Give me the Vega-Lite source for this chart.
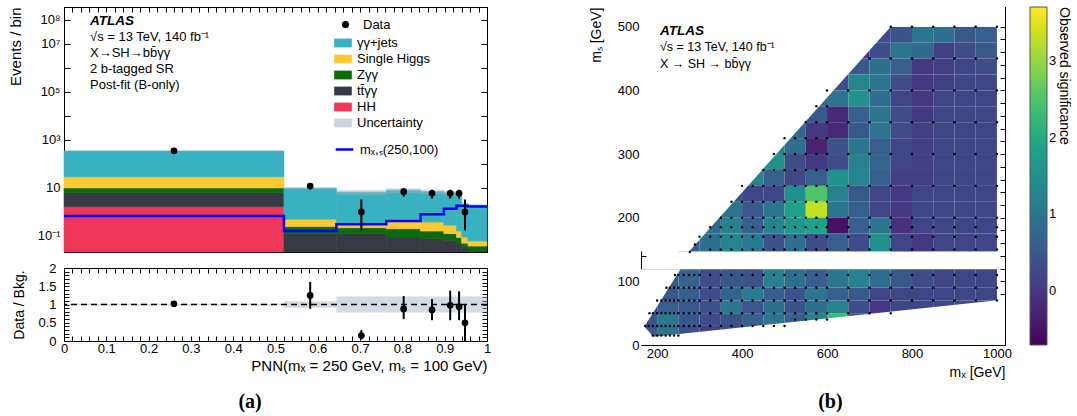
{
  "$schema": "https://vega.github.io/schema/vega-lite/v6.json",
  "background": "white",
  "padding": {"left": 7, "top": 6, "right": 0, "bottom": 0},
  "config": {
    "font": "Liberation Sans",
    "view": {"stroke": "black", "strokeWidth": 1},
    "axis": {"domainColor": "black", "tickColor": "black", "labelColor": "black", "titleColor": "black", "labelFont": "Liberation Sans", "titleFont": "Liberation Sans", "titleFontWeight": "normal", "grid": false, "zindex": 1, "labelFontSize": 13, "titleFontSize": 14},
    "legend": {"labelFont": "Liberation Sans", "titleFont": "Liberation Sans", "labelColor": "black", "titleColor": "black"},
    "title": {"font": "Liberation Sans", "color": "black"}
  },
  "datasets": {
    "stack": [
      {"c": "HH", "lo": [0], "hi": [0.52], "b": [0.001], "t": [1.66]},
      {"c": "tt̄γγ", "lo": [0, 0.52, 0.644, 0.762, 0.843, 0.898, 0.928, 0.94, 0.955], "hi": [0.52, 0.644, 0.762, 0.843, 0.898, 0.928, 0.94, 0.955, 1], "b": [1.66, 0.001, 0.001, 0.001, 0.001, 0.001, 0.001, 0.001, 0.001], "t": [6.4, 0.125, 0.125, 0.09, 0.08, 0.067, 0.05, 0.035, 0.025]},
      {"c": "Zγγ", "lo": [0, 0.52, 0.644, 0.762, 0.843, 0.898, 0.928, 0.94, 0.955], "hi": [0.52, 0.644, 0.762, 0.843, 0.898, 0.928, 0.94, 0.955, 1], "b": [6.4, 0.125, 0.125, 0.09, 0.08, 0.067, 0.05, 0.035, 0.025], "t": [10, 0.245, 0.22, 0.2, 0.16, 0.125, 0.086, 0.05, 0.038]},
      {"c": "Single Higgs", "lo": [0, 0.52, 0.644, 0.762, 0.843, 0.898, 0.928, 0.94, 0.955], "hi": [0.52, 0.644, 0.762, 0.843, 0.898, 0.928, 0.94, 0.955, 1], "b": [10, 0.245, 0.22, 0.2, 0.16, 0.125, 0.086, 0.05, 0.038], "t": [29.5, 0.5, 0.32, 0.42, 0.38, 0.28, 0.16, 0.09, 0.062]},
      {"c": "γγ+jets", "lo": [0, 0.52, 0.644, 0.762, 0.843, 0.898, 0.928, 0.94, 0.955], "hi": [0.52, 0.644, 0.762, 0.843, 0.898, 0.928, 0.94, 0.955, 1], "b": [29.5, 0.5, 0.32, 0.42, 0.38, 0.28, 0.16, 0.09, 0.062], "t": [343, 9.7, 6.6, 8.0, 7.0, 6.2, 6.4, 2.1, 1.8]}
    ],
    "unc": [
      {"lo": [0, 0.52, 0.644, 0.762, 0.843, 0.898, 0.928, 0.94, 0.955], "hi": [0.52, 0.644, 0.762, 0.843, 0.898, 0.928, 0.94, 0.955, 1], "ulo": [336, 8.8, 5.1, 6.2, 5.5, 4.8, 5.0, 1.6, 1.4], "uhi": [350, 10.6, 8.1, 9.8, 8.5, 7.6, 7.8, 2.6, 2.2], "rlo": [0.98, 0.91, 0.78, 0.78, 0.78, 0.78, 0.78, 0.78, 0.78], "rhi": [1.02, 1.09, 1.22, 1.22, 1.22, 1.22, 1.22, 1.22, 1.22]}
    ],
    "sig": [
      {"x": 0, "v": 0.68}, {"x": 0.52, "v": 0.16}, {"x": 0.644, "v": 0.31}, {"x": 0.762, "v": 0.42}, {"x": 0.843, "v": 0.8}, {"x": 0.898, "v": 1.37}, {"x": 0.928, "v": 1.8}, {"x": 0.94, "v": 1.8}, {"x": 0.955, "v": 1.7}, {"x": 1, "v": 1.7}
    ],
    "obs": [
      {"x": 0.26, "n": 350, "nlo": 331, "nhi": 369, "r": 1.02, "rlo": 0.99, "rhi": 1.05},
      {"x": 0.582, "n": 12, "nlo": 8.6, "nhi": 15.5, "r": 1.25, "rlo": 0.88, "rhi": 1.62},
      {"x": 0.703, "n": 1, "nlo": 0.17, "nhi": 3.3, "r": 0.15, "rlo": 0.04, "rhi": 0.3},
      {"x": 0.803, "n": 7, "nlo": 4.4, "nhi": 9.6, "r": 0.88, "rlo": 0.6, "rhi": 1.23},
      {"x": 0.87, "n": 6, "nlo": 3.6, "nhi": 8.4, "r": 0.85, "rlo": 0.57, "rhi": 1.15},
      {"x": 0.913, "n": 6, "nlo": 3.6, "nhi": 8.4, "r": 0.98, "rlo": 0.57, "rhi": 1.38},
      {"x": 0.934, "n": 6, "nlo": 3.6, "nhi": 8.4, "r": 0.94, "rlo": 0.57, "rhi": 1.36},
      {"x": 0.948, "n": 1, "nlo": 0.17, "nhi": 3.3, "r": 0.5, "rlo": 0.0, "rhi": 1.0}
    ],
    "ref": [{"r": 1}],
    "cells": [
      {"y": 475, "y2": 500, "x": [700, 750, 800, 850, 900, 950], "x2": [750, 800, 850, 900, 950, 1000], "z": [0.3, 0.4, 1.0, 0.9, 0.5, 0.6]},
      {"y": 450, "y2": 475, "x": [650, 700, 750, 800, 850, 900, 950], "x2": [700, 750, 800, 850, 900, 950, 1000], "z": [0.0, 0.3, 1.0, 0.8, 0.1, 0.3, 0.5]},
      {"y": 425, "y2": 450, "x": [600, 650, 700, 750, 800, 850, 900, 950], "x2": [650, 700, 750, 800, 850, 900, 950, 1000], "z": [-0.3, 0.5, 0.9, 0.6, 0.0, 0.1, 0.2, 0.3]},
      {"y": 400, "y2": 425, "x": [600, 650, 700, 750, 800, 850, 900, 950], "x2": [650, 700, 750, 800, 850, 900, 950, 1000], "z": [0.3, 1.3, 1.0, 0.3, 0.0, 0.1, 0.2, 0.2]},
      {"y": 375, "y2": 400, "x": [550, 600, 650, 700, 750, 800, 850, 900, 950], "x2": [600, 650, 700, 750, 800, 850, 900, 950, 1000], "z": [0.8, 1.0, 1.5, 0.9, 0.2, 0.0, 0.2, 0.2, 0.2]},
      {"y": 350, "y2": 375, "x": [500, 550, 600, 650, 700, 750, 800, 850, 900, 950], "x2": [550, 600, 650, 700, 750, 800, 850, 900, 950, 1000], "z": [1.0, 0.5, -0.2, 0.6, 1.0, 0.3, 0.0, 0.2, 0.2, 0.2]},
      {"y": 325, "y2": 350, "x": [500, 550, 600, 650, 700, 750, 800, 850, 900, 950], "x2": [550, 600, 650, 700, 750, 800, 850, 900, 950, 1000], "z": [0.8, 0.0, -0.2, 0.5, 1.0, 0.3, 0.1, 0.2, 0.2, 0.2]},
      {"y": 300, "y2": 325, "x": [450, 500, 550, 600, 650, 700, 750, 800, 850, 900, 950], "x2": [500, 550, 600, 650, 700, 750, 800, 850, 900, 950, 1000], "z": [1.3, 0.9, -0.3, 0.4, 1.0, 0.6, 0.2, 0.1, 0.2, 0.2, 0.2]},
      {"y": 275, "y2": 300, "x": [400, 450, 500, 550, 600, 650, 700, 750, 800, 850, 900, 950], "x2": [450, 500, 550, 600, 650, 700, 750, 800, 850, 900, 950, 1000], "z": [1.5, 1.5, 0.3, 0.0, 0.3, 1.2, 0.7, 0.2, 0.1, 0.2, 0.2, 0.2]},
      {"y": 250, "y2": 275, "x": [400, 450, 500, 550, 600, 650, 700, 750, 800, 850, 900, 950], "x2": [450, 500, 550, 600, 650, 700, 750, 800, 850, 900, 950, 1000], "z": [1.3, 0.6, 0.2, 0.6, 1.5, 1.3, 0.6, 0.1, 0.1, 0.2, 0.2, 0.2]},
      {"y": 225, "y2": 250, "x": [350, 400, 450, 500, 550, 600, 650, 700, 750, 800, 850, 900, 950], "x2": [400, 450, 500, 550, 600, 650, 700, 750, 800, 850, 900, 950, 1000], "z": [0.5, 0.2, 0.2, 1.5, 2.5, 1.2, 0.5, 0.2, 0.0, 0.2, 0.2, 0.2, 0.2]},
      {"y": 200, "y2": 225, "x": [300, 350, 400, 450, 500, 550, 600, 650, 700, 750, 800, 850, 900, 950], "x2": [350, 400, 450, 500, 550, 600, 650, 700, 750, 800, 850, 900, 950, 1000], "z": [0.3, 1.0, 0.5, 1.0, 1.8, 3.3, 1.0, 0.6, 0.2, 0.0, 0.2, 0.2, 0.2, 0.2]},
      {"y": 175, "y2": 200, "x": [300, 350, 400, 450, 500, 550, 600, 650, 700, 750, 800, 850, 900, 950], "x2": [350, 400, 450, 500, 550, 600, 650, 700, 750, 800, 850, 900, 950, 1000], "z": [0.8, 1.2, 0.6, 1.3, 1.6, 1.8, -0.5, 0.6, 1.0, -0.1, 0.2, 0.2, 0.2, 0.2]},
      {"y": 147, "y2": 175, "x": [250, 300, 350, 400, 450, 500, 550, 600, 650, 700, 750, 800, 850, 900, 950], "x2": [300, 350, 400, 450, 500, 550, 600, 650, 700, 750, 800, 850, 900, 950, 1000], "z": [0.6, 0.9, 1.3, 1.1, 0.4, 0.9, 0.3, 0.6, 0.3, 1.5, 0.2, 0.0, 0.2, 0.2, 0.2]},
      {"y": 10, "y2": 30, "x": [162, 200, 250, 300, 350, 400, 450], "x2": [200, 250, 300, 350, 400, 450, 500], "z": [0.5, 1.0, 0.4, 0.2, 0.3, 0.6, 0.3]},
      {"y": 30, "y2": 50, "x": [162, 200, 250, 300, 350, 400, 450, 500, 550, 600, 650, 700, 750], "x2": [200, 250, 300, 350, 400, 450, 500, 550, 600, 650, 700, 750, 800], "z": [0.4, 1.1, 0.5, 0.3, 0.4, 0.6, 1.0, 0.6, 1.2, 2.3, 0.5, 0.3, 0.2]},
      {"y": 50, "y2": 70, "x": [162, 200, 250, 300, 350, 400, 450, 500, 550, 600, 650, 700, 750, 800, 850, 900, 950], "x2": [200, 250, 300, 350, 400, 450, 500, 550, 600, 650, 700, 750, 800, 850, 900, 950, 1000], "z": [0.3, 0.6, 0.5, 0.4, 1.0, 0.5, 0.9, 0.4, 0.9, 1.2, 0.3, 0.0, 0.2, 0.2, 0.2, 0.3, 0.5]},
      {"y": 70, "y2": 90, "x": [162, 200, 250, 300, 350, 400, 450, 500, 550, 600, 650, 700, 750, 800, 850, 900, 950], "x2": [200, 250, 300, 350, 400, 450, 500, 550, 600, 650, 700, 750, 800, 850, 900, 950, 1000], "z": [0.3, 0.5, 0.6, 0.3, 0.7, 1.1, 0.6, 0.4, 1.0, 0.6, 0.5, 0.2, 0.2, 0.2, 0.2, 0.2, 0.2]},
      {"y": 90, "y2": 119, "x": [162, 200, 250, 300, 350, 400, 450, 500, 550, 600, 650, 700, 750, 800, 850, 900, 950], "x2": [200, 250, 300, 350, 400, 450, 500, 550, 600, 650, 700, 750, 800, 850, 900, 950, 1000], "z": [0.3, 0.5, 0.7, 0.3, 0.5, 0.4, 1.2, 0.9, 0.6, 1.0, 1.2, 0.9, 0.5, 0.3, 0.2, 0.2, 0.2]}
    ],
    "maskUpper": [{"x": 162, "y": 147, "top": 531}, {"x": 275, "y": 147, "top": 531}, {"x": 750, "y": 500, "top": 531}, {"x": 1019, "y": 500, "top": 531}],
    "maskLeft": [{"x": 162, "y": 20, "top": 119}, {"x": 170, "y": 29, "top": 119}, {"x": 255, "y": 119, "top": 119}],
    "maskBottom": [{"x": 162, "y": 35, "top": 0}, {"x": 191, "y": 13, "top": 0}, {"x": 1019, "y": 71.3, "top": 0}],
    "dots": [
      {"s": 500, "x": [750, 800, 850, 900, 950, 1000]},
      {"s": 450, "x": [700, 750, 800, 850, 900, 950, 1000]},
      {"s": 400, "x": [600, 650, 700, 750, 800, 850, 900, 950, 1000]},
      {"s": 375, "x": [575, 600]},
      {"s": 350, "x": [550, 575, 600, 650, 700, 750, 800, 850, 900, 950, 1000]},
      {"s": 325, "x": [500, 525, 550, 575, 600]},
      {"s": 300, "x": [475, 500, 525, 550, 575, 600, 650, 700, 750, 800, 850, 900, 950, 1000]},
      {"s": 275, "x": [450, 475, 500, 525, 550, 575, 600]},
      {"s": 250, "x": [400, 425, 450, 475, 500, 525, 550, 575, 600, 650, 700, 750, 800, 850, 900, 950, 1000]},
      {"s": 225, "x": [375, 400, 425, 450, 475, 500, 525, 550, 575, 600]},
      {"s": 200, "x": [350, 375, 400, 425, 450, 475, 500, 525, 550, 575, 600, 650, 700, 750, 800, 850, 900, 950, 1000]},
      {"s": 185, "x": [325, 350, 375, 400, 425, 450, 475, 500, 525, 550, 575, 600, 650, 700, 750, 800, 850, 900, 950, 1000]},
      {"s": 170, "x": [300, 325, 350, 375, 400, 425, 450, 475, 500, 525, 550, 575, 600, 650, 700, 750, 800, 850, 900, 950, 1000]},
      {"s": 150, "x": [325, 350, 375, 400, 425, 450, 475, 500, 525, 550, 575, 600, 650, 700, 750, 800, 850, 900, 950, 1000]},
      {"s": 158, "x": [289]},
      {"s": 146, "x": [277]},
      {"s": 110, "x": [242, 250, 262.5, 275, 287.5, 300, 325, 350, 375, 400, 425, 450, 475, 500, 525, 550, 575, 600, 650, 700, 750, 800, 850, 900, 950, 1000]},
      {"s": 90, "x": [222, 230, 240, 250, 262.5, 275, 287.5, 300, 325, 350, 375, 400, 425, 450, 475, 500, 525, 550, 575, 600, 650, 700, 750, 800, 850, 900, 950, 1000]},
      {"s": 70, "x": [200, 210, 220, 230, 240, 250, 262.5, 275, 287.5, 300, 325, 350, 375, 400, 425, 450, 475, 500, 525, 550, 575, 600, 650, 700, 750, 800, 850, 900, 950, 1000]},
      {"s": 50, "x": [182, 190, 200, 210, 220, 230, 240, 250, 262.5, 275, 287.5, 300, 325, 350, 375, 400, 425, 450, 475, 500, 525, 550, 575, 600, 650, 700, 750]},
      {"s": 40, "x": [525, 550, 575, 600]},
      {"s": 30, "x": [172, 180, 190, 200, 210, 220, 230, 240, 250, 262.5, 275, 287.5, 300, 325, 350, 375, 400, 425, 450, 475, 500]},
      {"s": 15, "x": [190, 200, 210, 220, 230, 240, 250]}
    ]
  },
  "resolve": {"scale": {"color": "independent", "x": "independent", "y": "independent"}, "legend": {"color": "independent"}},
  "spacing": 95,
  "hconcat": [
    {
      "title": {"text": "(a)", "orient": "bottom", "anchor": "middle", "font": "Liberation Serif", "fontSize": 20, "fontWeight": "bold", "offset": 18},
      "resolve": {"scale": {"y": "independent"}},
      "spacing": 8,
      "vconcat": [
        {
          "width": 423,
          "height": 245,
          "title": {"text": "ATLAS", "subtitle": ["√s = 13 TeV, 140 fb⁻¹", "X→SH→bb̄γγ", "2 b-tagged SR", "Post-fit (B-only)"], "anchor": "start", "frame": "group", "orient": "top", "offset": -86, "dx": 26, "fontSize": 13.5, "fontStyle": "italic", "fontWeight": "bold", "subtitleFontSize": 13, "subtitleLineHeight": 16.3, "subtitlePadding": 3, "subtitleColor": "black", "subtitleFont": "Liberation Sans"},
          "resolve": {"axis": {"x": "independent", "y": "independent"}},
          "layer": [
            {
              "data": {"name": "stack"},
              "transform": [{"flatten": ["lo", "hi", "b", "t"]}],
              "mark": {"type": "rect", "strokeWidth": 0.6},
              "encoding": {
                "x": {"field": "lo", "type": "quantitative", "scale": {"domain": [0, 1], "nice": false}, "axis": {"orient": "bottom", "tickCount": 50, "labels": false, "title": null, "tickSize": -5}},
                "x2": {"field": "hi"},
                "y": {"field": "b", "type": "quantitative", "scale": {"type": "log", "domain": [0.0215, 340000000], "clamp": true, "nice": false}, "axis": {"orient": "left", "values": [0.1, 1, 10, 100, 1000, 10000, 100000, 1000000, 10000000, 100000000], "labelExpr": "round(log(datum.value)/LN10) == -1 ? '10⁻¹' : round(log(datum.value)/LN10) == 1 ? '10' : round(log(datum.value)/LN10) == 3 ? '10³' : round(log(datum.value)/LN10) == 5 ? '10⁵' : round(log(datum.value)/LN10) == 7 ? '10⁷' : round(log(datum.value)/LN10) == 8 ? '10⁸' : ''", "labelOverlap": false, "tickSize": -6, "labelPadding": 10, "title": "Events / bin", "titleAnchor": "end", "titleFontSize": 15, "titlePadding": 14}},
                "y2": {"field": "t"},
                "color": {
                  "field": "c", "type": "nominal",
                  "scale": {"domain": ["γγ+jets", "Single Higgs", "Zγγ", "tt̄γγ", "HH", "Uncertainty"], "range": ["#38b2c0", "#fdc933", "#0b6b0b", "#373a45", "#f03659", "#c9d5e0"]},
                  "legend": {"title": null, "orient": "none", "legendX": 270, "legendY": 27, "padding": 0, "symbolType": "M-1,-0.5H1V0.5H-1Z", "symbolSize": 310, "rowPadding": 0, "labelFontSize": 13, "labelOffset": 5, "symbolStrokeWidth": 0, "symbolOpacity": 1}
                },
                "stroke": {"field": "c", "type": "nominal", "scale": {"domain": ["γγ+jets", "Single Higgs", "Zγγ", "tt̄γγ", "HH", "Uncertainty"], "range": ["#38b2c0", "#fdc933", "#0b6b0b", "#373a45", "#f03659", "#c9d5e0"]}, "legend": null}
              }
            },
            {
              "data": {"name": "unc"},
              "transform": [{"flatten": ["lo", "hi", "ulo", "uhi"]}],
              "mark": {"type": "rect", "color": "#9db1c4", "opacity": 0.45},
              "encoding": {
                "x": {"field": "lo", "type": "quantitative", "scale": {"domain": [0, 1], "nice": false}, "axis": {"orient": "top", "tickCount": 50, "labels": false, "title": null, "tickSize": -5}},
                "x2": {"field": "hi"},
                "y": {"field": "ulo", "type": "quantitative", "scale": {"type": "log", "domain": [0.0215, 340000000], "clamp": true, "nice": false}, "axis": {"orient": "right", "values": [0.1, 1, 10, 100, 1000, 10000, 100000, 1000000, 10000000, 100000000], "labels": false, "title": null, "tickSize": -6}},
                "y2": {"field": "uhi"}
              }
            },
            {
              "data": {"name": "sig"},
              "mark": {"type": "line", "interpolate": "step-after", "color": "#0000ff", "strokeWidth": 2.5},
              "encoding": {
                "x": {"field": "x", "type": "quantitative", "scale": {"domain": [0, 1], "nice": false}, "axis": null},
                "y": {"field": "v", "type": "quantitative", "scale": {"type": "log", "domain": [0.0215, 340000000], "clamp": true, "nice": false}, "axis": null},
                "strokeDash": {"datum": "mₓ,ₛ(250,100)", "type": "nominal", "scale": {"range": [[1, 0]]}, "legend": {"title": null, "orient": "none", "legendX": 270, "legendY": 132, "padding": 0, "symbolType": "stroke", "symbolSize": 310, "symbolStrokeColor": "#0000ff", "symbolStrokeWidth": 2.5, "labelFontSize": 13, "labelOffset": 5}}
              }
            },
            {
              "data": {"name": "obs"},
              "mark": {"type": "rule", "color": "black", "strokeWidth": 2},
              "encoding": {
                "x": {"field": "x", "type": "quantitative", "scale": {"domain": [0, 1], "nice": false}, "axis": null},
                "y": {"field": "nlo", "type": "quantitative", "scale": {"type": "log", "domain": [0.0215, 340000000], "clamp": true, "nice": false}, "axis": null},
                "y2": {"field": "nhi"}
              }
            },
            {
              "data": {"name": "obs"},
              "mark": {"type": "point", "filled": true, "color": "black", "size": 45, "opacity": 1},
              "encoding": {
                "x": {"field": "x", "type": "quantitative", "scale": {"domain": [0, 1], "nice": false}, "axis": null},
                "y": {"field": "n", "type": "quantitative", "scale": {"type": "log", "domain": [0.0215, 340000000], "clamp": true, "nice": false}, "axis": null},
                "shape": {"datum": "Data", "type": "nominal", "scale": {"range": ["circle"]}, "legend": {"title": null, "orient": "none", "legendX": 275, "legendY": 11, "padding": 0, "symbolSize": 50, "symbolFillColor": "black", "symbolStrokeColor": "black", "labelFontSize": 13, "labelOffset": 11}}
              }
            }
          ]
        },
        {
          "width": 423,
          "height": 73,
          "resolve": {"axis": {"x": "independent", "y": "independent"}},
          "layer": [
            {
              "data": {"name": "unc"},
              "transform": [{"flatten": ["lo", "hi", "rlo", "rhi"]}],
              "mark": {"type": "rect", "color": "#9db1c4", "opacity": 0.45},
              "encoding": {
                "x": {"field": "lo", "type": "quantitative", "scale": {"domain": [0, 1], "nice": false}, "axis": {"orient": "bottom", "tickCount": 50, "labelExpr": "abs(datum.value*10 - round(datum.value*10)) < 0.001 ? format(datum.value, '~g') : ''", "labelOverlap": false, "labelFlush": false, "tickSize": -5, "labelPadding": 6, "title": "PNN(mₓ = 250 GeV, mₛ = 100 GeV)", "titleAnchor": "end", "titleFontSize": 15, "titlePadding": 3}},
                "x2": {"field": "hi"},
                "y": {"field": "rlo", "type": "quantitative", "scale": {"domain": [0, 2], "nice": false}, "axis": {"orient": "left", "values": [0, 0.1, 0.2, 0.3, 0.4, 0.5, 0.6, 0.7, 0.8, 0.9, 1, 1.1, 1.2, 1.3, 1.4, 1.5, 1.6, 1.7, 1.8, 1.9, 2], "labelExpr": "abs(datum.value*2 - round(datum.value*2)) < 0.001 ? format(datum.value, '~g') : ''", "labelOverlap": false, "tickSize": -5, "labelPadding": 13, "title": "Data / Bkg.", "titleFontSize": 14, "titlePadding": 11}},
                "y2": {"field": "rhi"}
              }
            },
            {
              "data": {"name": "ref"},
              "mark": {"type": "rule", "color": "black", "strokeWidth": 1.5, "strokeDash": [6, 4]},
              "encoding": {
                "y": {"field": "r", "type": "quantitative", "scale": {"domain": [0, 2], "nice": false}, "axis": null}
              }
            },
            {
              "data": {"name": "obs"},
              "mark": {"type": "rule", "color": "black", "strokeWidth": 2},
              "encoding": {
                "x": {"field": "x", "type": "quantitative", "scale": {"domain": [0, 1], "nice": false}, "axis": {"orient": "top", "tickCount": 50, "labels": false, "title": null, "tickSize": -5}},
                "y": {"field": "rlo", "type": "quantitative", "scale": {"domain": [0, 2], "nice": false}, "axis": {"orient": "right", "values": [0, 0.1, 0.2, 0.3, 0.4, 0.5, 0.6, 0.7, 0.8, 0.9, 1, 1.1, 1.2, 1.3, 1.4, 1.5, 1.6, 1.7, 1.8, 1.9, 2], "labels": false, "title": null, "tickSize": -5}},
                "y2": {"field": "rhi"}
              }
            },
            {
              "data": {"name": "obs"},
              "mark": {"type": "circle", "color": "black", "size": 45, "opacity": 1},
              "encoding": {
                "x": {"field": "x", "type": "quantitative", "scale": {"domain": [0, 1], "nice": false}, "axis": null},
                "y": {"field": "r", "type": "quantitative", "scale": {"domain": [0, 2], "nice": false}, "axis": null}
              }
            }
          ]
        }
      ]
    },
    {
      "title": {"text": "(b)", "orient": "bottom", "anchor": "middle", "font": "Liberation Serif", "fontSize": 20, "fontWeight": "bold", "offset": 12},
      "vconcat": [
        {
          "width": 364,
          "height": 338,
          "title": {"text": "ATLAS", "subtitle": ["√s = 13 TeV, 140 fb⁻¹", "X → SH → bb̄γγ"], "anchor": "start", "frame": "group", "orient": "top", "offset": -64, "dx": 19, "fontSize": 13.5, "fontStyle": "italic", "fontWeight": "bold", "subtitleFontSize": 12.5, "subtitleLineHeight": 17.5, "subtitlePadding": 3, "subtitleColor": "black", "subtitleFont": "Liberation Sans"},
          "resolve": {"axis": {"x": "independent", "y": "independent"}},
          "layer": [
            {
              "data": {"name": "cells"},
              "transform": [{"flatten": ["x", "x2", "z"]}],
              "mark": {"type": "rect", "clip": true, "strokeWidth": 0},
              "encoding": {
                "x": {"field": "x", "type": "quantitative", "scale": {"domain": [162, 1019], "nice": false, "zero": false}, "axis": {"orient": "bottom", "values": [200, 250, 300, 350, 400, 450, 500, 550, 600, 650, 700, 750, 800, 850, 900, 950, 1000], "labelExpr": "datum.value % 200 == 0 ? format(datum.value, 'd') : ''", "labelOverlap": false, "labelFlush": false, "tickSize": -5, "labelPadding": 7, "title": "mₓ [GeV]", "titleAnchor": "end", "titleFontSize": 14, "titlePadding": 5}},
                "x2": {"field": "x2"},
                "y": {"field": "y", "type": "quantitative", "scale": {"domain": [0, 531], "nice": false, "zero": false}, "axis": {"orient": "left", "values": [0, 20, 40, 60, 80, 100, 120, 140, 160, 180, 200, 220, 240, 260, 280, 300, 320, 340, 360, 380, 400, 420, 440, 460, 480, 500, 520], "labelExpr": "datum.value % 100 == 0 ? format(datum.value, 'd') : ''", "labelOverlap": false, "tickSize": -5, "labelPadding": 7, "title": "mₛ [GeV]", "titleAnchor": "end", "titleFontSize": 14, "titlePadding": 14}},
                "y2": {"field": "y2"},
                "color": {"field": "z", "type": "quantitative", "scale": {"scheme": "viridis", "domain": [-0.7, 3.7]}, "legend": {"title": "Observed significance", "orient": "right", "offset": 18, "direction": "vertical", "gradientLength": 338, "gradientThickness": 17, "values": [0, 1, 2, 3], "labelFontSize": 13, "titleOrient": "right", "titleAngle": 270, "titleAnchor": "end", "titleFontSize": 14, "titleFontWeight": "normal", "titlePadding": 1, "gradientStrokeColor": "#555555", "gradientStrokeWidth": 1}}
              }
            },
            {
              "data": {"name": "maskUpper"},
              "mark": {"type": "area", "color": "white", "opacity": 1, "clip": true},
              "encoding": {
                "x": {"field": "x", "type": "quantitative", "scale": {"domain": [162, 1019], "nice": false, "zero": false}, "axis": {"orient": "top", "values": [200, 250, 300, 350, 400, 450, 500, 550, 600, 650, 700, 750, 800, 850, 900, 950, 1000], "labels": false, "title": null, "tickSize": -5}},
                "y": {"field": "y", "type": "quantitative", "scale": {"domain": [0, 531], "nice": false, "zero": false}, "axis": {"orient": "right", "values": [0, 20, 40, 60, 80, 100, 120, 140, 160, 180, 200, 220, 240, 260, 280, 300, 320, 340, 360, 380, 400, 420, 440, 460, 480, 500, 520], "labels": false, "title": null, "tickSize": -5}},
                "y2": {"field": "top"}
              }
            },
            {
              "data": {"name": "maskLeft"},
              "mark": {"type": "area", "color": "white", "opacity": 1, "clip": true},
              "encoding": {
                "x": {"field": "x", "type": "quantitative", "scale": {"domain": [162, 1019], "nice": false, "zero": false}, "axis": null},
                "y": {"field": "y", "type": "quantitative", "scale": {"domain": [0, 531], "nice": false, "zero": false}, "axis": null},
                "y2": {"field": "top"}
              }
            },
            {
              "data": {"name": "maskBottom"},
              "mark": {"type": "area", "color": "white", "opacity": 1, "clip": true},
              "encoding": {
                "x": {"field": "x", "type": "quantitative", "scale": {"domain": [162, 1019], "nice": false, "zero": false}, "axis": null},
                "y": {"field": "y", "type": "quantitative", "scale": {"domain": [0, 531], "nice": false, "zero": false}, "axis": null},
                "y2": {"field": "top"}
              }
            },
            {
              "data": {"name": "dots"},
              "transform": [{"flatten": ["x"]}],
              "mark": {"type": "circle", "color": "black", "size": 6, "opacity": 1},
              "encoding": {
                "x": {"field": "x", "type": "quantitative", "scale": {"domain": [162, 1019], "nice": false, "zero": false}, "axis": null},
                "y": {"field": "s", "type": "quantitative", "scale": {"domain": [0, 531], "nice": false, "zero": false}, "axis": null}
              }
            }
          ]
        }
      ]
    }
  ]
}
